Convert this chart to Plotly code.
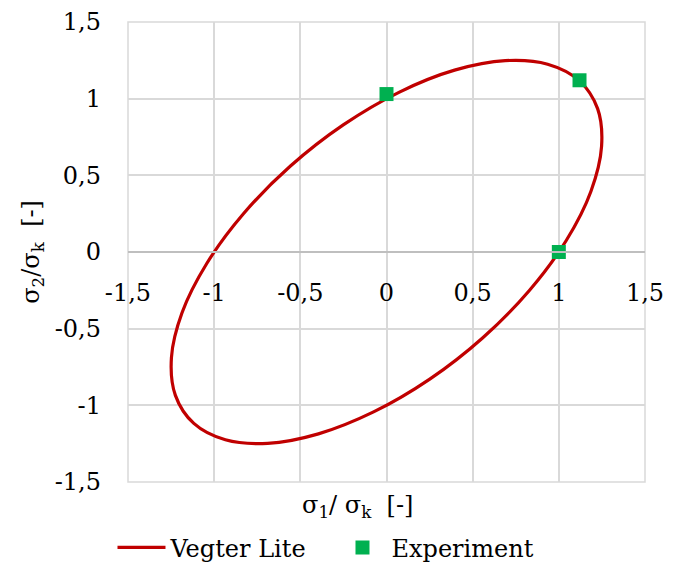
import plotly.graph_objects as go

# Vegter Lite yield locus (normalised principal stresses), traced around the contour
locus_s1 = [1.118, 0.935, 0.689, 0.395, 0.075, -0.251, -0.559, -0.829, -1.043,
            -1.186, -1.248, -1.225, -1.118, -0.935, -0.689, -0.395, -0.075, 0.251,
            0.559, 0.829, 1.043, 1.186, 1.248, 1.225, 1.118]
locus_s2 = [1.118, 1.225, 1.248, 1.186, 1.043, 0.829, 0.559, 0.251, -0.075,
            -0.395, -0.689, -0.935, -1.118, -1.225, -1.248, -1.186, -1.043, -0.829,
            -0.559, -0.251, 0.075, 0.395, 0.689, 0.935, 1.118]

# Measured points
exp_s1 = [0.0, 1.12, 1.0]
exp_s2 = [1.03, 1.12, 0.0]

tick_vals = [-1.5, -1.0, -0.5, 0.0, 0.5, 1.0, 1.5]
tick_text = ["-1,5", "-1", "-0,5", "0", "0,5", "1", "1,5"]

FONT = "DejaVu Serif"
FS = 24
GRID = "#d9d9d9"

fig = go.Figure()
fig.add_trace(go.Scatter(
    x=locus_s1, y=locus_s2, mode="lines", name="Vegter Lite",
    line=dict(color="#c00000", width=3.2, shape="spline", smoothing=1.0),
))
fig.add_trace(go.Scatter(
    x=exp_s1, y=exp_s2, mode="markers", name="Experiment",
    marker=dict(symbol="square", size=14, color="#00b050"),
))

fig.update_layout(
    width=673, height=566,
    margin=dict(l=128, r=28, t=22, b=84, autoexpand=False),
    paper_bgcolor="white", plot_bgcolor="white",
    font=dict(family=FONT, size=FS, color="black"),
    xaxis=dict(
        range=[-1.5, 1.5], tickvals=tick_vals, ticktext=tick_text,
        showgrid=True, gridcolor=GRID, gridwidth=1.5,
        zeroline=False, showline=True, linecolor="#bfbfbf", linewidth=1.5,
        anchor="free", position=0.5, ticks="", ticklabelstandoff=19,
        tickfont=dict(family=FONT, size=FS),
    ),
    yaxis=dict(
        range=[-1.5, 1.5], tickvals=tick_vals, ticktext=tick_text,
        showgrid=True, gridcolor=GRID, gridwidth=1.5,
        zeroline=False, showline=False, ticks="", ticklabelstandoff=26,
        tickfont=dict(family=FONT, size=FS),
    ),
    legend=dict(
        orientation="h", x=-0.03, xanchor="left", y=-0.143, yanchor="middle",
        font=dict(family=FONT, size=FS), itemwidth=48,
        entrywidth=158, entrywidthmode="pixels", bgcolor="rgba(0,0,0,0)",
    ),
    shapes=[dict(type="rect", xref="paper", yref="paper", x0=0, x1=1, y0=0, y1=1,
                 line=dict(color=GRID, width=1.5), layer="below")],
    annotations=[
        dict(text="σ<sub>1</sub>/ σ<sub>k</sub>  [-]", xref="paper", yref="paper",
             x=0.443, y=-0.054, xanchor="center", yanchor="middle", showarrow=False,
             font=dict(family=FONT, size=FS)),
        dict(text="σ<sub>2</sub>/σ<sub>k</sub>  [-]", xref="paper", yref="paper",
             x=-0.186, y=0.5, xanchor="center", yanchor="middle", showarrow=False,
             textangle=-90, font=dict(family=FONT, size=FS)),
    ],
)

fig.write_html("out.html")
